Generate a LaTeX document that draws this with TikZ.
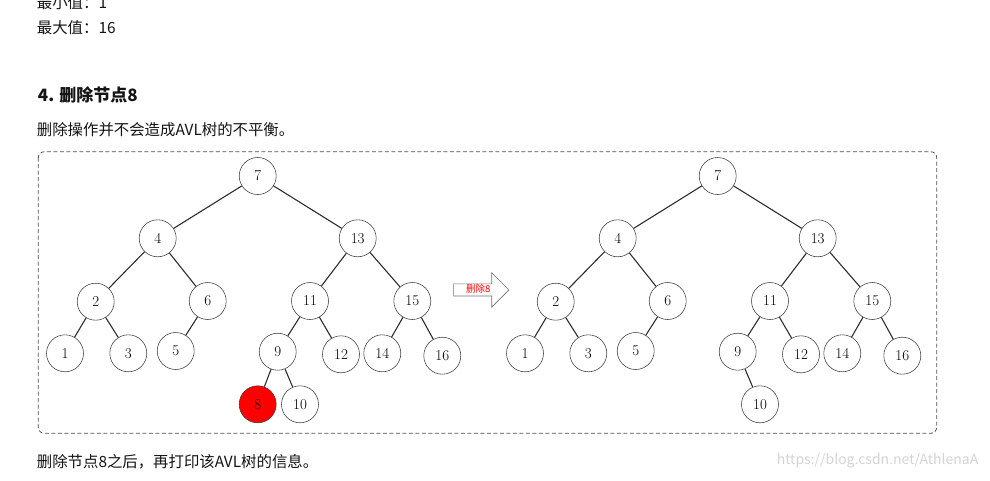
\documentclass[tikz,border=0pt]{standalone}
\usepackage{fontspec}
\usepackage{tikz}
\usetikzlibrary{arrows.meta, positioning, shapes.arrows, calc}
\newfontfamily\cjk{Noto Sans CJK SC}
\definecolor{edgeGray}{RGB}{45,45,45}
\definecolor{ringGray}{RGB}{60,60,60}
\definecolor{boxGray}{RGB}{80,80,80}
\definecolor{delRed}{RGB}{255,0,0}
\definecolor{bodyText}{RGB}{20,20,20}
\definecolor{markGray}{RGB}{212,212,212}
\tikzset{
    key/.style={circle, draw=ringGray, fill=#1, line width=0.55pt, minimum size=37pt,
                inner sep=0pt, font=\fontsize{15}{17}\selectfont},
    key/.default=white,
    link/.style={draw=edgeGray, line width=1.1pt},
    frame/.style={draw=boxGray, dash pattern=on 4pt off 2.5pt, rounded corners=6pt, line width=0.8pt},
    para/.style={anchor=west, inner sep=0pt, text=bodyText, font=\cjk\fontsize{15.4}{18}\selectfont},
    delarrow/.style={single arrow, draw=gray!90!black, fill=white, line width=0.6pt,
                     minimum height=55.3pt, single arrow head extend=11.2pt,
                     text height=6pt, text depth=1.5pt, inner xsep=1pt, inner ysep=2pt,
                     text=delRed, font=\cjk\fontsize{9.5}{10}\selectfont}
}

\begin{document}
\begin{tikzpicture}[x=1pt, y=-1pt]
    \useasboundingbox (0,0) rectangle (990,480);

    % Page text
    \node[para] (minline) at (36.7,2.5) {最小值：1};
    \node[para] (maxline) at (36.7,27.5) {最大值：16};
    \node[para, font=\cjk\bfseries\fontsize{17}{20}\selectfont] (title) at (37.7,95.5) {4. 删除节点8};
    \node[para] (intro) at (36.7,129.5) {删除操作并不会造成AVL树的不平衡。};
    \node[para] (after) at (36.7,461.5) {删除节点8之后，再打印该AVL树的信息。};
    \node[para, anchor=east, text=markGray, font=\cjk\fontsize{14}{16}\selectfont] (mark) at (978.5,461) {https://blog.csdn.net/AthlenaA};

    % Frame
    \draw[frame] (38.3,151.7) rectangle (936.7,433.3);

    % Tree before deletion
    \node[key] (l7) at (257.7,176) {7};
    \node[key] (l4) at (157.7,238.3) {4};
    \node[key] (l13) at (357.7,238.3) {13};
    \node[key] (l2) at (95.7,301.7) {2};
    \node[key] (l6) at (207.7,301) {6};
    \node[key] (l11) at (310,301) {11};
    \node[key] (l15) at (412.3,301) {15};
    \node[key] (l1) at (65,353.3) {1};
    \node[key] (l3) at (128.3,353.3) {3};
    \node[key] (l5) at (175.7,351) {5};
    \node[key] (l9) at (277.7,351.7) {9};
    \node[key] (l12) at (341,354.3) {12};
    \node[key] (l14) at (382.3,353.3) {14};
    \node[key] (l16) at (442.3,355.7) {16};
    \node[key=delRed] (l8) at (257.7,404.3) {8};
    \node[key] (l10) at (300,404.3) {10};

    \draw[link] (l7) -- (l4) (l7) -- (l13);
    \draw[link] (l4) -- (l2) (l4) -- (l6);
    \draw[link] (l2) -- (l1) (l2) -- (l3);
    \draw[link] (l6) -- (l5);
    \draw[link] (l13) -- (l11) (l13) -- (l15);
    \draw[link] (l11) -- (l9) (l11) -- (l12);
    \draw[link] (l15) -- (l14) (l15) -- (l16);
    \draw[link] (l9) -- (l8) (l9) -- (l10);

    % Arrow
    \node[delarrow] (step) at (478.3,289.9) {删除8};

    % Tree after deletion
    \begin{scope}[xshift=460]
    \node[key] (r7) at (257.7,176) {7};
    \node[key] (r4) at (157.7,238.3) {4};
    \node[key] (r13) at (357.7,238.3) {13};
    \node[key] (r2) at (95.7,301.7) {2};
    \node[key] (r6) at (207.7,301) {6};
    \node[key] (r11) at (310,301) {11};
    \node[key] (r15) at (412.3,301) {15};
    \node[key] (r1) at (65,353.3) {1};
    \node[key] (r3) at (128.3,353.3) {3};
    \node[key] (r5) at (175.7,351) {5};
    \node[key] (r9) at (277.7,351.7) {9};
    \node[key] (r12) at (341,354.3) {12};
    \node[key] (r14) at (382.3,353.3) {14};
    \node[key] (r16) at (442.3,355.7) {16};
    \node[key] (r10) at (300,404.3) {10};
    \end{scope}

    \draw[link] (r7) -- (r4) (r7) -- (r13);
    \draw[link] (r4) -- (r2) (r4) -- (r6);
    \draw[link] (r2) -- (r1) (r2) -- (r3);
    \draw[link] (r6) -- (r5);
    \draw[link] (r13) -- (r11) (r13) -- (r15);
    \draw[link] (r11) -- (r9) (r11) -- (r12);
    \draw[link] (r15) -- (r14) (r15) -- (r16);
    \draw[link] (r9) -- (r10);
\end{tikzpicture}
\end{document}
